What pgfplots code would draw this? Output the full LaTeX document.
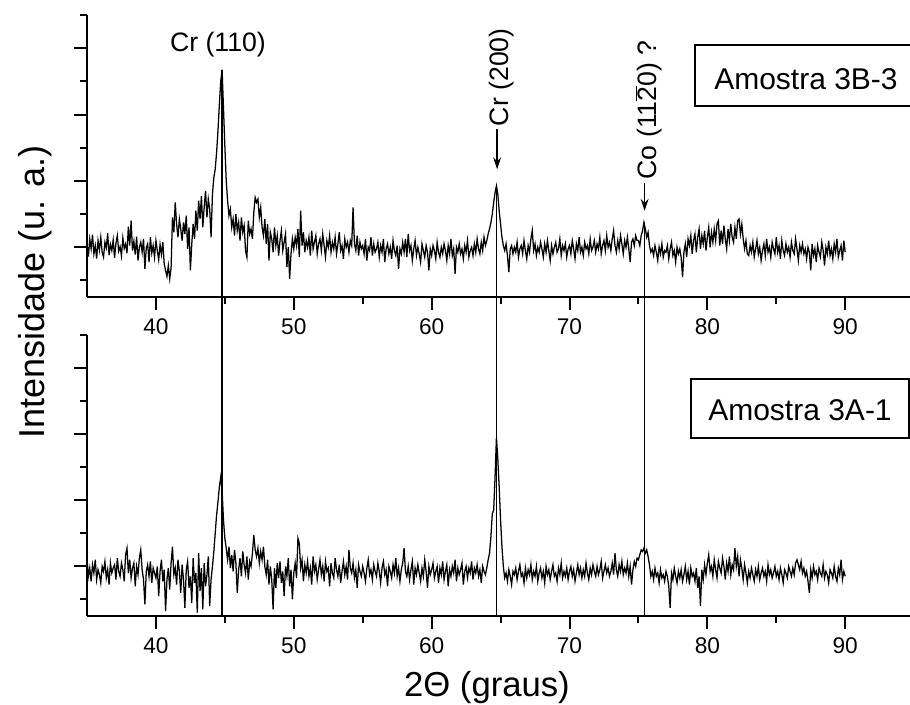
\documentclass[border=0pt]{standalone}
\usepackage{pgfplots}
\pgfplotsset{compat=1.18}
\usepackage{fontspec}
\setmainfont{Liberation Sans}
\usetikzlibrary{arrows.meta}
\newcommand\ob[1]{\ensuremath{\overline{\mbox{#1}}}}
\begin{document}
\begin{tikzpicture}
\useasboundingbox (0,0) rectangle (682.5pt,528.75pt);
\pgfplotsset{
  xrdaxis/.style={
    scale only axis,
    width=617.25pt,
    xmin=35, xmax=94.7,
    ymin=-0.5, ymax=8,
    axis lines*=left,
    axis line style={line width=1.8pt},
    xtick={40,50,...,90},
    minor xtick={45,55,...,85},
    ytick={1,3,5,7},
    minor ytick={0,2,4,6,8},
    yticklabels={},
    tick align=outside,
    major tick length=10pt,
    minor tick length=5pt,
    tick style={line width=1.5pt, black},
    tick label style={font=\fontsize{17}{20}\selectfont},
    xticklabel style={yshift=-3pt},
    /pgf/number format/assume math mode=true,
    clip=false,
  }
}
% ---------------- top panel: Amostra 3B-3 ----------------
\begin{axis}[xrdaxis, at={(65.25pt,306pt)}, anchor=south west, height=211.5pt]
\addplot[black, line width=0.95pt] coordinates {
(35.0,1.10)(35.1,0.72)(35.2,1.25)(35.3,0.95)(35.4,1.38)(35.5,0.80)(35.6,1.05)(35.7,0.66)(35.8,1.20)(35.9,0.92)
(36.0,1.30)(36.1,0.85)(36.2,0.70)(36.3,1.15)(36.4,0.98)(36.5,1.42)(36.6,0.76)(36.7,1.08)(36.8,0.90)(36.9,1.22)
(37.0,0.68)(37.1,1.12)(37.2,1.35)(37.3,0.88)(37.4,1.02)(37.5,0.74)(37.6,1.28)(37.7,0.96)(37.8,1.10)(37.9,0.82)
(38.0,1.62)(38.1,1.05)(38.2,1.80)(38.3,0.90)(38.4,1.18)(38.5,0.78)(38.6,1.32)(38.7,0.60)(38.8,1.00)(38.9,1.15)
(39.0,0.85)(39.1,1.25)(39.2,0.35)(39.3,0.98)(39.4,1.10)(39.5,0.55)(39.6,1.30)(39.7,0.82)(39.8,1.05)(39.9,0.70)
(40.0,1.20)(40.1,0.90)(40.2,0.62)(40.3,1.08)(40.4,0.78)(40.5,1.15)(40.6,0.50)(40.7,0.30)(40.8,0.12)(40.9,0.45)
(41.0,0.05)(41.1,0.38)(41.2,1.90)(41.3,1.45)(41.4,2.35)(41.5,1.70)(41.6,1.30)(41.7,1.85)(41.8,1.55)(41.9,1.20)
(42.0,1.75)(42.1,1.40)(42.2,1.95)(42.3,0.95)(42.4,1.60)(42.5,0.30)(42.6,1.10)(42.7,1.70)(42.8,1.25)(42.9,2.10)
(43.0,1.50)(43.1,2.40)(43.2,1.85)(43.3,2.55)(43.4,1.60)(43.5,2.20)(43.6,2.70)(43.7,1.90)(43.8,2.45)(43.9,2.15)
(44.0,1.30)(44.1,2.60)(44.2,3.10)(44.3,3.35)(44.4,3.85)(44.5,4.50)(44.6,5.30)(44.7,6.00)(44.8,6.35)(44.9,5.20)
(45.0,4.05)(45.1,3.00)(45.2,2.40)(45.3,1.95)(45.4,2.15)(45.5,1.60)(45.6,1.85)(45.7,1.35)(45.8,2.00)(45.9,1.50)
(46.0,1.75)(46.1,1.20)(46.2,1.90)(46.3,1.45)(46.4,1.65)(46.5,0.90)(46.6,0.70)(46.7,1.80)(46.8,1.40)(46.9,1.55)
(47.0,1.25)(47.1,2.05)(47.2,2.50)(47.3,2.35)(47.4,2.45)(47.5,1.90)(47.6,2.20)(47.7,1.60)(47.8,1.35)(47.9,1.85)
(48.0,1.10)(48.1,1.70)(48.2,0.60)(48.3,1.45)(48.4,1.25)(48.5,0.85)(48.6,1.60)(48.7,1.05)(48.8,1.35)(48.9,0.75)
(49.0,1.20)(49.1,1.50)(49.2,0.90)(49.3,1.15)(49.4,1.40)(49.5,0.40)(49.6,1.00)(49.7,0.05)(49.8,0.80)(49.9,1.25)
(50.0,0.95)(50.1,1.30)(50.2,1.05)(50.3,1.55)(50.4,0.70)(50.5,2.10)(50.6,1.05)(50.7,1.45)(50.8,0.85)(50.9,1.20)
(51.0,1.00)(51.1,1.30)(51.2,0.75)(51.3,1.50)(51.4,0.95)(51.5,1.15)(51.6,1.35)(51.7,0.80)(51.8,1.10)(51.9,1.25)
(52.0,0.90)(52.1,1.40)(52.2,1.05)(52.3,0.70)(52.4,1.20)(52.5,1.00)(52.6,1.35)(52.7,0.85)(52.8,1.15)(52.9,0.95)
(53.0,1.30)(53.1,0.80)(53.2,1.10)(53.3,1.45)(53.4,0.90)(53.5,1.05)(53.6,0.65)(53.7,1.25)(53.8,1.00)(53.9,1.15)
(54.0,0.85)(54.1,1.20)(54.2,1.05)(54.3,2.20)(54.4,1.10)(54.5,0.90)(54.6,1.35)(54.7,0.75)(54.8,1.15)(54.9,0.95)
(55.0,1.05)(55.1,0.80)(55.2,1.25)(55.3,0.60)(55.4,1.00)(55.5,0.90)(55.6,1.30)(55.7,0.75)(55.8,1.10)(55.9,0.85)
(56.0,0.95)(56.1,1.15)(56.2,0.70)(56.3,1.05)(56.4,0.85)(56.5,1.25)(56.6,0.55)(56.7,0.95)(56.8,1.10)(56.9,0.80)
(57.0,1.00)(57.1,0.65)(57.2,1.20)(57.3,0.90)(57.4,0.75)(57.5,1.05)(57.6,0.35)(57.7,0.95)(57.8,0.80)(57.9,1.15)
(58.0,0.85)(58.1,1.25)(58.2,0.70)(58.3,1.40)(58.4,0.90)(58.5,1.05)(58.6,0.60)(58.7,0.95)(58.8,1.20)(58.9,0.75)
(59.0,1.00)(59.1,0.80)(59.2,0.55)(59.3,1.10)(59.4,0.90)(59.5,0.70)(59.6,1.05)(59.7,0.85)(59.8,0.30)(59.9,0.95)
(60.0,0.75)(60.1,1.05)(60.2,0.90)(60.3,0.65)(60.4,1.15)(60.5,0.85)(60.6,0.70)(60.7,1.00)(60.8,0.80)(60.9,1.10)
(61.0,0.90)(61.1,0.60)(61.2,1.05)(61.3,0.80)(61.4,1.25)(61.5,0.75)(61.6,0.95)(61.7,0.20)(61.8,1.00)(61.9,0.85)
(62.0,1.10)(62.1,0.80)(62.2,0.95)(62.3,0.65)(62.4,1.05)(62.5,0.85)(62.6,1.20)(62.7,0.70)(62.8,0.90)(62.9,1.00)
(63.0,0.75)(63.1,1.10)(63.2,0.85)(63.3,1.25)(63.4,0.95)(63.5,0.80)(63.6,1.15)(63.7,0.90)(63.8,1.30)(63.9,1.05)
(64.0,1.20)(64.1,1.40)(64.2,1.55)(64.3,1.75)(64.4,2.00)(64.5,2.35)(64.6,2.65)(64.7,2.85)(64.8,2.60)(64.9,2.10)
(65.0,1.70)(65.1,1.30)(65.2,1.05)(65.3,0.90)(65.4,1.10)(65.5,0.75)(65.6,0.25)(65.7,0.95)(65.8,1.05)(65.9,0.80)
(66.0,1.00)(66.1,0.85)(66.2,1.15)(66.3,0.70)(66.4,0.95)(66.5,1.05)(66.6,0.80)(66.7,1.20)(66.8,0.90)(66.9,0.65)
(67.0,1.05)(67.1,0.85)(67.2,1.25)(67.3,1.50)(67.4,0.90)(67.5,1.10)(67.6,0.75)(67.7,1.00)(67.8,0.85)(67.9,1.15)
(68.0,0.95)(68.1,0.70)(68.2,1.10)(68.3,0.85)(68.4,1.20)(68.5,0.90)(68.6,0.60)(68.7,1.05)(68.8,0.80)(68.9,1.00)
(69.0,1.15)(69.1,0.85)(69.2,0.95)(69.3,1.25)(69.4,0.75)(69.5,1.05)(69.6,0.90)(69.7,1.10)(69.8,0.70)(69.9,0.95)
(70.0,1.05)(70.1,0.80)(70.2,1.20)(70.3,0.95)(70.4,0.65)(70.5,1.10)(70.6,0.90)(70.7,1.30)(70.8,0.85)(70.9,1.00)
(71.0,0.75)(71.1,1.15)(71.2,0.95)(71.3,1.05)(71.4,0.80)(71.5,1.25)(71.6,0.90)(71.7,1.00)(71.8,1.20)(71.9,0.85)
(72.0,1.10)(72.1,0.95)(72.2,1.30)(72.3,0.80)(72.4,1.05)(72.5,1.20)(72.6,0.90)(72.7,1.35)(72.8,1.00)(72.9,1.15)
(73.0,0.90)(73.1,1.25)(73.2,1.50)(73.3,1.05)(73.4,0.85)(73.5,1.20)(73.6,0.95)(73.7,1.35)(73.8,1.10)(73.9,0.80)
(74.0,1.20)(74.1,1.00)(74.2,1.30)(74.3,0.95)(74.4,0.55)(74.5,1.15)(74.6,1.25)(74.7,1.05)(74.8,1.35)(74.9,1.20)
(75.0,1.20)(75.1,1.05)(75.2,1.35)(75.3,1.50)(75.4,1.75)(75.5,1.55)(75.6,1.30)(75.7,1.45)(75.8,1.05)(75.9,0.85)
(76.0,0.95)(76.1,0.75)(76.2,1.05)(76.3,0.85)(76.4,0.60)(76.5,1.00)(76.6,0.80)(76.7,1.10)(76.8,0.70)(76.9,0.90)
(77.0,0.85)(77.1,1.05)(77.2,0.65)(77.3,0.95)(77.4,1.15)(77.5,0.75)(77.6,0.90)(77.7,0.55)(77.8,1.00)(77.9,0.80)
(78.0,0.95)(78.1,0.70)(78.2,0.10)(78.3,0.85)(78.4,1.10)(78.5,0.70)(78.6,1.25)(78.7,1.05)(78.8,1.35)(78.9,0.80)
(79.0,1.20)(79.1,1.40)(79.2,0.85)(79.3,1.30)(79.4,1.55)(79.5,0.95)(79.6,1.35)(79.7,1.10)(79.8,1.50)(79.9,0.90)
(80.0,1.30)(80.1,1.60)(80.2,1.00)(80.3,1.45)(80.4,1.15)(80.5,1.55)(80.6,1.20)(80.7,1.70)(80.8,1.80)(80.9,1.05)
(81.0,1.50)(81.1,1.10)(81.2,1.65)(81.3,1.25)(81.4,0.95)(81.5,1.55)(81.6,1.20)(81.7,1.70)(81.8,1.30)(81.9,1.15)
(82.0,1.60)(82.1,1.25)(82.2,1.80)(82.3,1.85)(82.4,1.40)(82.5,1.70)(82.6,1.25)(82.7,0.95)(82.8,1.20)(82.9,0.80)
(83.0,0.75)(83.1,1.05)(83.2,0.85)(83.3,1.15)(83.4,0.70)(83.5,0.95)(83.6,1.20)(83.7,0.80)(83.8,1.00)(83.9,0.60)
(84.0,0.90)(84.1,1.10)(84.2,0.75)(84.3,1.25)(84.4,0.85)(84.5,1.00)(84.6,0.70)(84.7,1.15)(84.8,0.95)(84.9,0.80)
(85.0,1.30)(85.1,0.85)(85.2,1.05)(85.3,0.65)(85.4,1.20)(85.5,0.90)(85.6,0.75)(85.7,1.10)(85.8,0.85)(85.9,1.00)
(86.0,0.70)(86.1,1.15)(86.2,0.90)(86.3,0.80)(86.4,1.25)(86.5,0.95)(86.6,0.60)(86.7,1.05)(86.8,0.85)(86.9,1.10)
(87.0,0.80)(87.1,0.95)(87.2,0.65)(87.3,1.00)(87.4,0.85)(87.5,0.30)(87.6,1.10)(87.7,0.75)(87.8,0.95)(87.9,0.55)
(88.0,1.05)(88.1,0.85)(88.2,0.70)(88.3,1.15)(88.4,0.90)(88.5,0.45)(88.6,1.00)(88.7,0.80)(88.8,1.20)(88.9,0.75)
(89.0,0.95)(89.1,0.65)(89.2,1.10)(89.3,0.85)(89.4,1.25)(89.5,0.70)(89.6,0.90)(89.7,1.05)(89.8,0.60)(89.9,1.20)
(90.0,0.85)
};
\coordinate (t1) at (axis cs:44.8,6.35);
\coordinate (t2) at (axis cs:64.72,2.85);
\coordinate (t3) at (axis cs:75.45,1.75);
\node[font=\fontsize{20}{24}\selectfont] at (axis cs:44.5,7.1) {Cr (110)};
\draw[line width=1pt, -{Stealth[length=9pt,width=6pt]}] (axis cs:64.75,4.55) -- (axis cs:64.75,3.35);
\node[font=\fontsize{20}{24}\selectfont, rotate=90, anchor=west, inner sep=1pt] at (axis cs:65.05,4.6) {Cr (200)};
\draw[line width=1pt, -{Stealth[length=9pt,width=6pt]}] (axis cs:75.45,2.95) -- (axis cs:75.45,2.1);
\node[font=\fontsize{20}{24}\selectfont, rotate=90, anchor=west, inner sep=1pt] at (axis cs:75.75,3.0) {Co (11\ob{2}0) ?};
\end{axis}
% ---------------- bottom panel: Amostra 3A-1 ----------------
\begin{axis}[xrdaxis, at={(65.25pt,66.75pt)}, anchor=south west, height=210.75pt,
  xlabel={2Θ (graus)}, ylabel={Intensidade (u. a.)},
  xlabel style={font=\fontsize{26}{30}\selectfont, at={(axis description cs:0.486,-0.256)}, anchor=center},
  ylabel style={font=\fontsize{27}{32}\selectfont, at={(axis description cs:-0.063,1.153)}, anchor=center},
]
\addplot[black, line width=0.95pt] coordinates {
(35.0,1.25)(35.1,0.70)(35.2,0.95)(35.3,0.55)(35.4,1.05)(35.5,0.80)(35.6,1.20)(35.7,0.60)(35.8,0.90)(35.9,0.75)
(36.0,0.50)(36.1,1.00)(36.2,0.85)(36.3,1.15)(36.4,0.65)(36.5,0.90)(36.6,0.45)(36.7,1.10)(36.8,0.80)(36.9,0.95)
(37.0,1.05)(37.1,0.60)(37.2,1.25)(37.3,0.85)(37.4,0.70)(37.5,1.10)(37.6,0.90)(37.7,0.55)(37.8,1.35)(37.9,1.55)
(38.0,0.80)(38.1,1.20)(38.2,0.65)(38.3,0.95)(38.4,1.10)(38.5,0.40)(38.6,1.00)(38.7,0.75)(38.8,1.25)(38.9,1.50)
(39.0,0.90)(39.1,0.60)(39.2,-0.15)(39.3,0.85)(39.4,1.05)(39.5,0.70)(39.6,1.15)(39.7,0.50)(39.8,0.95)(39.9,0.80)
(40.0,0.65)(40.1,1.00)(40.2,0.10)(40.3,0.85)(40.4,1.20)(40.5,0.55)(40.6,0.90)(40.7,-0.35)(40.8,0.60)(40.9,0.95)
(41.0,0.30)(41.1,1.10)(41.2,1.60)(41.3,0.75)(41.4,0.95)(41.5,0.45)(41.6,1.20)(41.7,0.85)(41.8,0.20)(41.9,1.05)
(42.0,0.60)(42.1,-0.25)(42.2,0.90)(42.3,1.15)(42.4,0.35)(42.5,0.70)(42.6,-0.10)(42.7,1.25)(42.8,0.50)(42.9,0.80)
(43.0,-0.40)(43.1,1.40)(43.2,0.25)(43.3,0.95)(43.4,-0.30)(43.5,1.10)(43.6,0.40)(43.7,0.75)(43.8,1.30)(43.9,-0.20)
(44.0,0.60)(44.1,1.00)(44.2,1.45)(44.3,2.00)(44.4,2.55)(44.5,2.95)(44.6,3.40)(44.7,3.70)(44.8,3.30)(44.9,2.40)
(45.0,1.85)(45.1,1.55)(45.2,1.20)(45.3,1.60)(45.4,0.95)(45.5,1.35)(45.6,0.85)(45.7,1.50)(45.8,1.10)(45.9,0.20)
(46.0,0.90)(46.1,1.25)(46.2,0.70)(46.3,1.45)(46.4,1.05)(46.5,0.80)(46.6,1.30)(46.7,0.60)(46.8,1.15)(46.9,1.00)
(47.0,1.40)(47.1,1.95)(47.2,1.50)(47.3,1.30)(47.4,1.55)(47.5,1.10)(47.6,1.45)(47.7,1.20)(47.8,1.60)(47.9,1.00)
(48.0,0.75)(48.1,1.20)(48.2,0.45)(48.3,1.00)(48.4,0.60)(48.5,-0.30)(48.6,0.95)(48.7,0.35)(48.8,1.10)(48.9,0.65)
(49.0,1.15)(49.1,0.50)(49.2,0.85)(49.3,0.10)(49.4,1.00)(49.5,0.70)(49.6,1.25)(49.7,0.40)(49.8,0.90)(49.9,0.00)
(50.0,0.80)(50.1,1.10)(50.2,0.65)(50.3,1.85)(50.4,1.70)(50.5,0.95)(50.6,1.20)(50.7,0.55)(50.8,1.05)(50.9,0.80)
(51.0,1.15)(51.1,0.70)(51.2,0.95)(51.3,0.45)(51.4,1.30)(51.5,0.85)(51.6,1.05)(51.7,0.60)(51.8,0.90)(51.9,1.20)
(52.0,0.75)(52.1,1.00)(52.2,0.55)(52.3,1.15)(52.4,0.85)(52.5,0.95)(52.6,0.40)(52.7,1.10)(52.8,0.80)(52.9,0.65)
(53.0,1.25)(53.1,0.90)(53.2,0.70)(53.3,1.05)(53.4,0.50)(53.5,0.85)(53.6,1.15)(53.7,0.75)(53.8,1.00)(53.9,0.60)
(54.0,1.50)(54.1,0.95)(54.2,0.80)(54.3,1.10)(54.4,0.65)(54.5,0.90)(54.6,0.35)(54.7,1.05)(54.8,0.85)(54.9,0.70)
(55.0,1.00)(55.1,0.80)(55.2,0.55)(55.3,0.95)(55.4,1.20)(55.5,0.75)(55.6,0.90)(55.7,0.60)(55.8,1.05)(55.9,0.85)
(56.0,0.70)(56.1,1.10)(56.2,0.85)(56.3,0.50)(56.4,0.95)(56.5,1.15)(56.6,0.75)(56.7,0.90)(56.8,0.40)(56.9,1.00)
(57.0,0.85)(57.1,0.65)(57.2,1.05)(57.3,0.80)(57.4,1.25)(57.5,0.70)(57.6,0.95)(57.7,0.55)(57.8,0.90)(57.9,1.10)
(58.0,1.55)(58.1,0.85)(58.2,0.70)(58.3,1.00)(58.4,0.60)(58.5,0.90)(58.6,1.15)(58.7,0.45)(58.8,0.95)(58.9,0.75)
(59.0,1.05)(59.1,0.80)(59.2,0.55)(59.3,0.95)(59.4,0.70)(59.5,1.20)(59.6,0.85)(59.7,0.35)(59.8,1.00)(59.9,0.75)
(60.0,0.90)(60.1,1.10)(60.2,0.65)(60.3,0.85)(60.4,1.00)(60.5,0.50)(60.6,0.95)(60.7,0.75)(60.8,1.15)(60.9,0.60)
(61.0,0.85)(61.1,1.05)(61.2,0.40)(61.3,0.90)(61.4,0.70)(61.5,1.00)(61.6,0.80)(61.7,1.20)(61.8,0.55)(61.9,0.95)
(62.0,0.75)(62.1,0.90)(62.2,1.10)(62.3,0.45)(62.4,0.85)(62.5,1.00)(62.6,0.65)(62.7,0.95)(62.8,0.80)(62.9,1.15)
(63.0,0.60)(63.1,0.95)(63.2,0.80)(63.3,1.05)(63.4,0.70)(63.5,0.90)(63.6,0.50)(63.7,1.00)(63.8,0.85)(63.9,0.75)
(64.0,0.95)(64.1,1.20)(64.2,1.40)(64.3,1.90)(64.4,2.60)(64.5,2.70)(64.6,3.70)(64.7,4.90)(64.8,4.25)(64.9,3.40)
(65.0,2.40)(65.1,1.60)(65.2,1.00)(65.3,0.65)(65.4,0.80)(65.5,0.55)(65.6,0.90)(65.7,0.70)(65.8,0.45)(65.9,0.85)
(66.0,0.75)(66.1,0.95)(66.2,0.60)(66.3,0.85)(66.4,1.05)(66.5,0.70)(66.6,0.80)(66.7,0.50)(66.8,0.95)(66.9,0.65)
(67.0,0.90)(67.1,0.75)(67.2,1.05)(67.3,0.60)(67.4,0.85)(67.5,0.70)(67.6,1.00)(67.7,0.55)(67.8,0.80)(67.9,0.95)
(68.0,0.65)(68.1,0.85)(68.2,0.50)(68.3,1.00)(68.4,0.75)(68.5,0.90)(68.6,0.60)(68.7,0.85)(68.8,1.05)(68.9,0.70)
(69.0,0.80)(69.1,0.55)(69.2,0.95)(69.3,0.75)(69.4,1.10)(69.5,0.65)(69.6,0.85)(69.7,0.70)(69.8,0.95)(69.9,0.60)
(70.0,0.85)(70.1,1.00)(70.2,0.70)(70.3,0.90)(70.4,0.55)(70.5,0.80)(70.6,1.05)(70.7,0.75)(70.8,0.95)(70.9,0.65)
(71.0,0.90)(71.1,0.70)(71.2,1.10)(71.3,0.80)(71.4,0.60)(71.5,0.95)(71.6,0.75)(71.7,1.05)(71.8,0.85)(71.9,0.70)
(72.0,1.00)(72.1,0.75)(72.2,0.90)(72.3,1.15)(72.4,0.65)(72.5,0.85)(72.6,1.05)(72.7,0.80)(72.8,0.95)(72.9,0.70)
(73.0,0.85)(73.1,1.10)(73.2,0.75)(73.3,1.40)(73.4,0.90)(73.5,0.70)(73.6,1.05)(73.7,0.85)(73.8,1.15)(73.9,0.75)
(74.0,0.95)(74.1,0.80)(74.2,1.10)(74.3,0.70)(74.4,1.00)(74.5,0.45)(74.6,0.90)(74.7,1.15)(74.8,1.00)(74.9,1.25)
(75.0,1.20)(75.1,1.35)(75.2,1.50)(75.3,1.45)(75.4,1.55)(75.5,1.40)(75.6,1.50)(75.7,1.30)(75.8,1.05)(75.9,0.70)
(76.0,0.85)(76.1,0.60)(76.2,0.95)(76.3,0.70)(76.4,0.80)(76.5,0.50)(76.6,0.90)(76.7,0.65)(76.8,0.75)(76.9,0.55)
(77.0,0.85)(77.1,0.70)(77.2,0.40)(77.3,-0.25)(77.4,0.80)(77.5,0.60)(77.6,0.95)(77.7,0.70)(77.8,0.50)(77.9,0.85)
(78.0,0.65)(78.1,0.90)(78.2,0.55)(78.3,0.75)(78.4,1.00)(78.5,0.60)(78.6,0.85)(78.7,0.45)(78.8,0.95)(78.9,0.70)
(79.0,0.80)(79.1,0.55)(79.2,0.95)(79.3,0.35)(79.4,0.70)(79.5,-0.20)(79.6,0.90)(79.7,0.60)(79.8,1.05)(79.9,0.75)
(80.0,1.10)(80.1,1.35)(80.2,0.85)(80.3,1.00)(80.4,0.70)(80.5,1.20)(80.6,0.90)(80.7,0.65)(80.8,1.15)(80.9,0.95)
(81.0,0.80)(81.1,1.25)(81.2,1.00)(81.3,0.60)(81.4,1.10)(81.5,0.85)(81.6,1.30)(81.7,0.75)(81.8,1.05)(81.9,0.90)
(82.0,1.55)(82.1,1.00)(82.2,1.30)(82.3,0.70)(82.4,1.20)(82.5,0.95)(82.6,0.60)(82.7,1.05)(82.8,0.80)(82.9,0.50)
(83.0,0.85)(83.1,0.65)(83.2,0.95)(83.3,0.75)(83.4,0.55)(83.5,0.90)(83.6,0.70)(83.7,1.00)(83.8,0.60)(83.9,0.80)
(84.0,0.95)(84.1,0.70)(84.2,0.85)(84.3,0.55)(84.4,1.05)(84.5,0.75)(84.6,0.90)(84.7,0.65)(84.8,0.80)(84.9,1.00)
(85.0,0.70)(85.1,0.85)(85.2,0.60)(85.3,0.95)(85.4,0.75)(85.5,0.50)(85.6,0.90)(85.7,0.80)(85.8,0.65)(85.9,1.00)
(86.0,0.85)(86.1,0.70)(86.2,0.95)(86.3,0.75)(86.4,1.10)(86.5,1.20)(86.6,1.05)(86.7,0.90)(86.8,1.15)(86.9,0.80)
(87.0,0.95)(87.1,0.70)(87.2,0.85)(87.3,0.55)(87.4,0.20)(87.5,0.90)(87.6,0.65)(87.7,1.00)(87.8,0.75)(87.9,0.85)
(88.0,0.60)(88.1,0.95)(88.2,0.80)(88.3,0.70)(88.4,1.05)(88.5,0.65)(88.6,0.85)(88.7,0.75)(88.8,0.50)(88.9,0.90)
(89.0,0.80)(89.1,0.65)(89.2,1.00)(89.3,0.70)(89.4,0.55)(89.5,0.95)(89.6,0.75)(89.7,1.20)(89.8,0.60)(89.9,0.85)
(90.0,0.70)
};
\coordinate (b1) at (axis cs:44.8,-0.5);
\coordinate (b2) at (axis cs:64.72,-0.5);
\coordinate (b3) at (axis cs:75.45,-0.5);
\end{axis}
\draw[line width=1.1pt] (t1) -- (b1);
\draw[line width=1.1pt] (t2) -- (b2);
\draw[line width=1.1pt] (t3) -- (b3);
% sample boxes
\draw[line width=1.2pt] (684pt,495pt) -- (521.25pt,495pt) -- (521.25pt,449.25pt) -- (684pt,449.25pt);
\node[font=\fontsize{22.5}{27}\selectfont] at (604.5pt,469.5pt) {Amostra 3B-3};
\draw[line width=1.2pt] (518.25pt,200.25pt) rectangle (681.75pt,244.5pt);
\node[font=\fontsize{22.5}{27}\selectfont] at (600pt,221.25pt) {Amostra 3A-1};
\end{tikzpicture}
\end{document}
